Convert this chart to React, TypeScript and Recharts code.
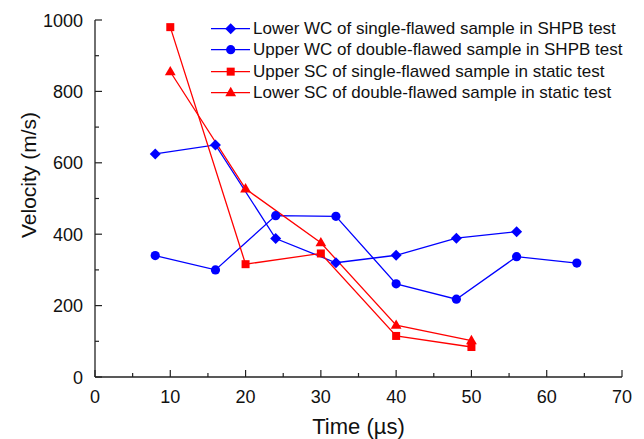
import React from 'react';
import { LineChart, Line, XAxis, YAxis, Label } from 'recharts';

// Time (µs) and velocity (m/s) values for each series
const lowerWcSingleTime = [8, 16, 24, 32, 40, 48, 56];
const lowerWcSingleVel = [625, 650, 388, 320, 341, 389, 407];

const upperWcDoubleTime = [8, 16, 24, 32, 40, 48, 56, 64];
const upperWcDoubleVel = [340, 300, 452, 450, 261, 218, 337, 319];

const upperScSingleTime = [10, 20, 30, 40, 50];
const upperScSingleVel = [980, 316, 346, 115, 84];

const lowerScDoubleTime = [10, 20, 30, 40, 50];
const lowerScDoubleVel = [855, 527, 376, 145, 102];

const xTicks = [0, 5, 10, 15, 20, 25, 30, 35, 40, 45, 50, 55, 60, 65, 70];
const yTicks = [0, 100, 200, 300, 400, 500, 600, 700, 800, 900, 1000];

const seriesNames = [
  'Lower WC of single-flawed sample in SHPB test',
  'Upper WC of double-flawed sample in SHPB test',
  'Upper SC of single-flawed sample in static test',
  'Lower SC of double-flawed sample in static test',
];

const BLUE = '#0000ff';
const RED = '#ff0000';
const AXIS = '#222222';
const FONT = '"Liberation Sans", Arial, sans-serif';

const toPoints = (xs: number[], ys: number[]) => xs.map((x, i) => ({ x, y: ys[i] }));

type Shape = 'diamond' | 'circle' | 'square' | 'triangle';

const Marker = ({ cx, cy, shape, color }: { cx: number; cy: number; shape: Shape; color: string }) => {
  if (cx == null || cy == null || isNaN(cx) || isNaN(cy)) return null;
  if (shape === 'diamond') {
    const r = 5.5;
    return <polygon points={`${cx},${cy - r} ${cx + r},${cy} ${cx},${cy + r} ${cx - r},${cy}`} fill={color} />;
  }
  if (shape === 'circle') {
    return <circle cx={cx} cy={cy} r={4.6} fill={color} />;
  }
  if (shape === 'square') {
    const h = 4;
    return <rect x={cx - h} y={cy - h} width={2 * h} height={2 * h} fill={color} />;
  }
  const w = 5.4;
  return <polygon points={`${cx},${cy - 5.8} ${cx + w},${cy + 3.6} ${cx - w},${cy + 3.6}`} fill={color} />;
};

const makeDot = (shape: Shape, color: string) => (props: any) => (
  <Marker key={`${shape}-${props.index}`} cx={props.cx} cy={props.cy} shape={shape} color={color} />
);

const series = [
  { name: seriesNames[0], data: toPoints(lowerWcSingleTime, lowerWcSingleVel), color: BLUE, shape: 'diamond' as Shape },
  { name: seriesNames[1], data: toPoints(upperWcDoubleTime, upperWcDoubleVel), color: BLUE, shape: 'circle' as Shape },
  { name: seriesNames[2], data: toPoints(upperScSingleTime, upperScSingleVel), color: RED, shape: 'square' as Shape },
  { name: seriesNames[3], data: toPoints(lowerScDoubleTime, lowerScDoubleVel), color: RED, shape: 'triangle' as Shape },
];

const XTick = (props: any) => {
  const { x, y, payload } = props;
  const v = payload.value;
  const major = v % 10 === 0;
  return (
    <g>
      <line x1={x} x2={x} y1={y} y2={y - (major ? 7 : 4)} stroke={AXIS} strokeWidth={1.2} />
      {major && (
        <text x={x} y={y + 26} textAnchor="middle" fontSize={18} fill="#111" fontFamily={FONT}>
          {v}
        </text>
      )}
    </g>
  );
};

const YTick = (props: any) => {
  const { x, y, payload } = props;
  const v = payload.value;
  const major = v % 200 === 0;
  return (
    <g>
      <line x1={x} x2={x + (major ? 7 : 4)} y1={y} y2={y} stroke={AXIS} strokeWidth={1.2} />
      {major && (
        <text x={x - 12} y={y + 6.5} textAnchor="end" fontSize={18} fill="#111" fontFamily={FONT}>
          {v}
        </text>
      )}
    </g>
  );
};

const LegendBox = () => (
  <div
    style={{
      position: 'absolute',
      left: 211,
      top: 18,
      fontFamily: FONT,
      fontSize: 17,
      color: '#111',
      lineHeight: '21.3px',
      pointerEvents: 'none',
    }}
  >
    {series.map((s) => (
      <div key={s.name} style={{ display: 'flex', alignItems: 'center', height: 21.3, whiteSpace: 'nowrap' }}>
        <svg width={42} height={21.3} style={{ display: 'block' }}>
          <line x1={0} x2={39} y1={10.65} y2={10.65} stroke={s.color} strokeWidth={1.3} />
          <Marker cx={19.7} cy={10.65} shape={s.shape} color={s.color} />
        </svg>
        <span>{s.name}</span>
      </div>
    ))}
  </div>
);

export default function App() {
  return (
    <div style={{ position: 'absolute', left: 0, top: 0, width: 644, height: 439, background: '#fff' }}>
      <LineChart width={644} height={439} margin={{ top: 20, right: 22, bottom: 0, left: 0 }}>
        <XAxis
          dataKey="x"
          type="number"
          domain={[0, 70]}
          ticks={xTicks}
          interval={0}
          tickSize={0}
          tickMargin={0}
          tick={<XTick />}
          axisLine={{ stroke: AXIS, strokeWidth: 1.3 }}
          allowDuplicatedCategory={false}
          height={62}
        >
          <Label
            content={(p: any) => {
              const vb = p.viewBox;
              return (
                <text x={vb.x + vb.width / 2} y={434} textAnchor="middle" fontSize={22} fill="#111" fontFamily={FONT}>
                  Time (µs)
                </text>
              );
            }}
          />
        </XAxis>
        <YAxis
          dataKey="y"
          type="number"
          domain={[0, 1000]}
          ticks={yTicks}
          interval={0}
          tickSize={0}
          tickMargin={0}
          tick={<YTick />}
          axisLine={{ stroke: AXIS, strokeWidth: 1.3 }}
          width={95}
        >
          <Label
            content={() => (
              <text
                x={36}
                y={175}
                transform="rotate(-90 36 175)"
                textAnchor="middle"
                fontSize={21}
                fill="#111"
                fontFamily={FONT}
              >
                Velocity (m/s)
              </text>
            )}
          />
        </YAxis>
        {series.map((s) => (
          <Line
            key={s.name}
            name={s.name}
            data={s.data}
            dataKey="y"
            type="linear"
            stroke={s.color}
            strokeWidth={1.3}
            dot={makeDot(s.shape, s.color)}
            activeDot={false}
            isAnimationActive={false}
          />
        ))}
      </LineChart>
      <LegendBox />
    </div>
  );
}
